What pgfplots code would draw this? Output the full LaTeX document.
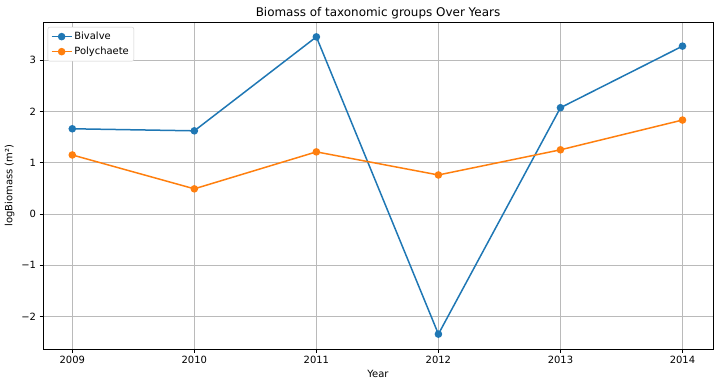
\documentclass[border=0pt]{standalone}
\usepackage{pgfplots}
\pgfplotsset{compat=1.18}
\usepackage{fontspec}
\setmainfont{DejaVu Sans}
\definecolor{cA}{HTML}{1F77B4}
\definecolor{cB}{HTML}{FF7F0E}
\begin{document}
\begin{tikzpicture}[x=1bp,y=1bp]
\begin{axis}[
  scale only axis,
  width=670bp, height=327bp,
  xmin=2008.76, xmax=2014.25,
  ymin=-2.63, ymax=3.74,
  xtick={2009,2010,2011,2012,2013,2014},
  ytick={-2,-1,0,1,2,3},
  yticklabels={−2,−1,0,1,2,3},
  x tick label style={/pgf/number format/1000 sep={}},
  /pgf/number format/assume math mode=true,
  tick label style={font=\fontsize{10}{12}\selectfont},
  tick align=outside,
  major tick length=3.5bp,
  tick style={black, line width=0.8bp},
  xtick pos=bottom, ytick pos=left,
  grid=major,
  grid style={color=black!27, line width=0.8bp},
  axis line style={line width=0.8bp},
  title={Biomass of taxonomic groups Over Years},
  title style={font=\fontsize{12}{14}\selectfont, yshift=-6bp},
  xlabel={Year},
  ylabel={logBiomass (m²)},
  label style={font=\fontsize{10}{12}\selectfont},
  legend style={font=\fontsize{10}{12}\selectfont, draw=black!20, rounded corners=2bp, inner sep=3bp, row sep=2bp, at={(0.007,0.985)}, anchor=north west},
  legend cell align=left,
  legend image code/.code={
    \draw[#1, mark repeat=2, mark phase=2] plot coordinates {(0bp,0bp) (10bp,0bp) (20bp,0bp)};
  },
  every axis plot/.append style={line width=1.5bp, mark=*, mark size=3bp},
]
\addplot[color=cA, mark options={fill=cA, draw=cA}] coordinates {
 (2009,1.66) (2010,1.62) (2011,3.45) (2012,-2.34) (2013,2.07) (2014,3.27)};
\addlegendentry{Bivalve}
\addplot[color=cB, mark options={fill=cB, draw=cB}] coordinates {
 (2009,1.15) (2010,0.49) (2011,1.21) (2012,0.76) (2013,1.25) (2014,1.83)};
\addlegendentry{Polychaete}
\end{axis}
\pgfresetboundingbox
\path[use as bounding box] ([xshift=-43bp,yshift=-38bp]current axis.south west) rectangle ([xshift=6bp,yshift=22bp]current axis.north east);
\end{tikzpicture}
\end{document}
